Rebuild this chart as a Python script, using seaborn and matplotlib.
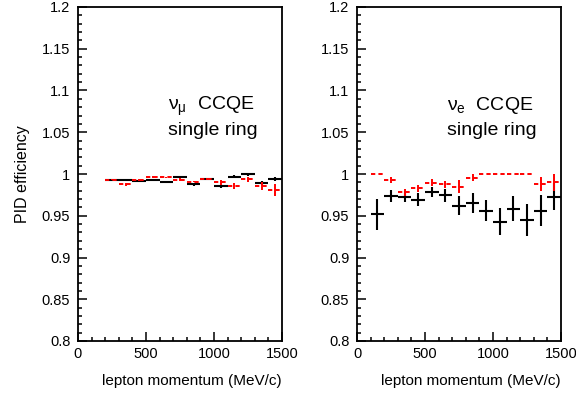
import matplotlib
matplotlib.use("Agg")
import matplotlib.pyplot as plt
from matplotlib.ticker import MultipleLocator
import numpy as np
import seaborn as sns

# ---- numu CCQE single ring (left panel) ----
numu_p = [250, 350, 450, 550, 650, 750, 850, 950, 1050, 1150, 1250, 1350, 1450]
numu_data = [0.9932, 0.9924, 0.9920, 0.9924, 0.9908, 0.9964, 0.9877, 0.9940,
             0.9856, 0.9968, 0.9995, 0.9896, 0.9940]
numu_data_err = [0.0012, 0.0012, 0.0012, 0.0012, 0.0012, 0.0012, 0.0015, 0.0015,
                 0.0018, 0.0018, 0.0020, 0.0022, 0.0024]
numu_mc = [0.9933, 0.9877, 0.9930, 0.9964, 0.9960, 0.9933, 0.9908, 0.9940,
           0.9900, 0.9856, 0.9940, 0.9860, 0.9810]
numu_mc_err = [0.0010, 0.0015, 0.0010, 0.0010, 0.0010, 0.0015, 0.0008, 0.0015,
               0.0032, 0.0036, 0.0030, 0.0050, 0.0070]

# ---- nue CCQE single ring (right panel) ----
nue_p = [150, 250, 350, 450, 550, 650, 750, 850, 950, 1050, 1150, 1250, 1350, 1450]
nue_data = [0.952, 0.9733, 0.973, 0.9692, 0.9784, 0.9745, 0.962, 0.9656,
            0.956, 0.943, 0.9585, 0.945, 0.956, 0.9728]
nue_data_err = [0.0186, 0.0070, 0.0064, 0.0080, 0.0064, 0.0075, 0.0116, 0.0120,
                0.0128, 0.0160, 0.0147, 0.0188, 0.0188, 0.0160]
nue_mc = [1.000, 0.993, 0.978, 0.9829, 0.9896, 0.9877, 0.985, 0.9956,
          1.000, 1.000, 1.000, 1.000, 0.988, 0.990]
nue_mc_err = [0.0, 0.004, 0.004, 0.004, 0.004, 0.004, 0.008, 0.0044,
              0.0, 0.0, 0.0, 0.0, 0.008, 0.010]

bin_half_width = 50.0

panel_titles = ["ν$_\\mathregular{μ}$  CCQE", "ν$_\\mathregular{e}$  CCQE"]
panel_subtitle = "single ring"

sns.set_theme(style="ticks")
plt.rcParams["font.family"] = ["Liberation Sans", "DejaVu Sans"]
plt.rcParams["mathtext.default"] = "regular"
plt.rcParams["text.color"] = "black"
plt.rcParams["axes.labelcolor"] = "black"

fig = plt.figure(figsize=(5.76, 3.96), dpi=100)
W, H = 576.0, 396.0
ax_left = fig.add_axes([78 / W, 1 - 341 / H, 204 / W, 334 / H])
ax_right = fig.add_axes([357 / W, 1 - 341 / H, 204 / W, 334 / H])

panels = [
    (ax_left, numu_p, numu_data, numu_data_err, numu_mc, numu_mc_err, panel_titles[0]),
    (ax_right, nue_p, nue_data, nue_data_err, nue_mc, nue_mc_err, panel_titles[1]),
]

for ax, p, data, data_err, mc, mc_err, title in panels:
    p = np.asarray(p, dtype=float)
    # data: crosses with bin-width horizontal bars
    ax.errorbar(p, data, xerr=bin_half_width, yerr=data_err, fmt="none",
                ecolor="black", elinewidth=1.5, capsize=0, zorder=2)
    # MC: dashed red bin contents with vertical error bars
    ax.hlines(mc, p - bin_half_width, p + bin_half_width, colors="red",
              linestyles=(0, (2.2, 1.6)), linewidth=1.4, zorder=3)
    ax.errorbar(p, mc, yerr=mc_err, fmt="none", ecolor="red",
                elinewidth=1.4, capsize=0, zorder=3)

    ax.set_xlim(0, 1500)
    ax.set_ylim(0.8, 1.2)
    ax.xaxis.set_major_locator(MultipleLocator(500))
    ax.xaxis.set_minor_locator(MultipleLocator(100))
    ax.yaxis.set_major_locator(MultipleLocator(0.05))
    ax.yaxis.set_minor_locator(MultipleLocator(0.01))
    ax.yaxis.set_major_formatter(plt.FuncFormatter(lambda v, _: f"{v:.2f}".rstrip("0").rstrip(".")))
    ax.tick_params(which="both", direction="in", top=False, right=False,
                   colors="black", labelcolor="black", width=1.1, labelsize=10.5)
    ax.tick_params(which="major", length=6.5)
    ax.tick_params(which="minor", length=3.2)
    ax.tick_params(axis="y", pad=5.5)
    ax.tick_params(axis="x", pad=4.5)
    for s in ax.spines.values():
        s.set_visible(True)
        s.set_color("black")
        s.set_linewidth(1.3)

    ax.set_xlabel("lepton momentum (MeV/c)", fontsize=11)
    ax.xaxis.label.set_ha("right")
    ax.xaxis.label.set_va("center")
    ax.xaxis.set_label_coords(1.0, -(380.7 - 341) / 334)

    ax.text(660, 1.0766, title, fontsize=14, ha="left", va="baseline")
    ax.text(660, 1.0467, panel_subtitle, fontsize=14, ha="left", va="baseline")
    ax.set_facecolor("white")

ax_left.set_ylabel("PID efficiency", fontsize=11.5)
ax_left.yaxis.label.set_va("center")
ax_left.yaxis.set_label_coords((23 - 78) / 204, 0.5)
ax_right.set_ylabel("")

fig.patch.set_facecolor("white")
fig.savefig("out.png", dpi=100, facecolor="white")
